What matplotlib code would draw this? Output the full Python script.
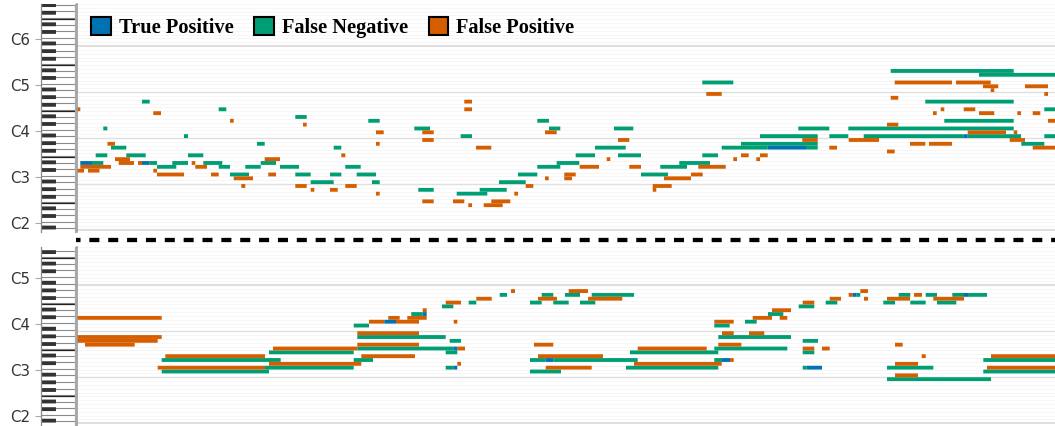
import matplotlib
matplotlib.use('Agg')
import matplotlib.pyplot as plt
from matplotlib.lines import Line2D
from matplotlib.patches import Patch
import numpy as np

BLUE = '#0072B2'
GREEN = '#009E73'
ORANGE = '#D55E00'

# notes are (pitch row, start, end), time is in reference pixels
top_tp = [(52, 80.3, 92), (52, 142, 149.7), (56, 767.7, 806), (59, 963.3, 967.7)]

top_fn = [
    (52, 92, 103.3), (52, 149.7, 157), (52, 172.3, 188), (52, 203.3, 222.3), (52, 260.7, 276),
    (54, 95.7, 107.3), (54, 126.3, 145.7), (54, 188, 203.3), (61, 103.3, 107.3),
    (56, 111, 126.3), (56, 333.7, 341.3), (68, 142, 149.7), (51, 157, 176.3),
    (51, 218.7, 230), (51, 245.3, 260.7), (51, 280, 299), (51, 345.3, 360.7),
    (59, 184, 188), (66, 218.7, 226.3), (49, 230, 249), (49, 295.3, 310.7), (49, 330, 341.3),
    (57, 257, 264.7), (64, 295.3, 306.7), (47, 310.7, 333.7),
    (49, 356.7, 376), (47, 372, 379.7), (63, 368.3, 379.7), (61, 414.3, 430),
    (45, 418.3, 433.7), (59, 460.7, 472), (44, 456.7, 487.3), (45, 479.7, 506.7),
    (47, 499, 525.7), (49, 518, 537.3), (51, 537.3, 560.3), (52, 556.7, 579.3),
    (54, 575.7, 595), (56, 595, 625.7), (61, 614, 633.3), (61, 549, 560.3), (63, 537.3, 549),
    (54, 618, 641), (49, 641, 668), (51, 660.3, 687), (52, 679.3, 710),
    (54, 702.3, 718), (73, 702.3, 733.3), (56, 721.7, 767.7), (56, 806, 817.7),
    (57, 741, 817.7), (59, 760, 817.7), (59, 829.3, 848.3), (59, 863.7, 963.3),
    (59, 967.7, 1021), (59, 1044.3, 1055), (61, 798.3, 829.3), (61, 848.3, 1013.7),
    (63, 944.3, 1013.7), (68, 925.3, 1013.7), (66, 1044.3, 1055), (76, 890.7, 1013.7),
    (75, 979, 1055), (57, 1021.3, 1044.3),
]

top_fp = [
    (66, 76.5, 80.3), (50, 77, 84), (50, 88, 99.5), (51, 80.3, 111), (57, 107.5, 115),
    (53, 115, 130), (52, 118.7, 134), (52, 138, 142), (50, 153.3, 157), (65, 153.3, 161),
    (49, 157, 184), (52, 191.7, 195.3), (51, 195.3, 207), (49, 211, 218.7), (63, 230, 233.7),
    (48, 233.7, 253), (46, 241.3, 245.3), (53, 264.7, 280), (49, 268.3, 276), (62, 303, 306.7),
    (46, 295.3, 306.7), (45, 310.7, 314.3), (45, 330, 337.7), (54, 341.3, 345.3),
    (46, 345.3, 356.7), (44, 376, 379.7), (60, 376, 383.7), (57, 376, 379.7),
    (60, 422.3, 433.7), (58, 422.3, 433.7), (42, 422.3, 433.7), (42, 453, 464.3),
    (42, 491.3, 510.3), (68, 464.3, 472), (66, 464.3, 472), (41, 468.3, 472), (41, 483.7, 502.7),
    (56, 476, 491.3), (44, 514.3, 518), (46, 525.7, 533.3), (48, 545, 548.7), (49, 564.3, 575.7),
    (48, 564.3, 572), (60, 545, 556.7), (51, 579.7, 599), (53, 606.7, 610.3), (58, 618, 629.3),
    (51, 629.3, 641), (46, 652.7, 671.7), (45, 652.7, 656.3), (48, 664, 691), (49, 691, 702.7),
    (51, 698.3, 725.7), (70, 706.3, 721.7), (53, 733.3, 737), (53, 756.3, 760), (54, 741, 748.7),
    (54, 760, 767.7), (58, 802.3, 817.7), (56, 829.3, 837), (58, 848.7, 879), (55, 887, 894.7),
    (62, 887, 898.3), (69, 890.7, 898.3), (73, 894.7, 952), (73, 956, 990.7), (72, 983, 998.3),
    (72, 1025, 1048), (71, 990.7, 994.3), (70, 1044.3, 1048), (66, 940.7, 944.3),
    (65, 933, 936.7), (65, 979, 994.3), (65, 1017.3, 1021), (65, 1032.7, 1040.3),
    (66, 963.7, 975.3), (63, 1048, 1055), (60, 967.7, 1006), (60, 1013.7, 1017.3),
    (58, 1009.7, 1025), (57, 910, 925.3), (57, 929, 952), (56, 1032.7, 1055),
]

bottom_tp = [
    (54, 453.3, 457.3), (49, 453.3, 457.3), (63, 422.7, 426.7), (61, 384.3, 396),
    (51, 545.7, 553.3), (51, 722, 730), (49, 806.7, 822), (68, 852.7, 856.7), (68, 964, 968),
]

bottom_fn = [
    (51, 161.7, 280.7), (48, 161.7, 269), (53, 269, 353.7), (49, 265, 353.7), (51, 353.7, 373),
    (54, 357.3, 453.3), (57, 357.3, 445.7), (56, 449.7, 461), (53, 445.7, 457.3),
    (49, 445.7, 453.3), (60, 353.7, 369), (63, 411.3, 422.7), (65, 442, 453.3),
    (66, 468.7, 476.3), (66, 530, 541.7), (66, 553.3, 568.7), (66, 580, 595.3),
    (68, 499.7, 507), (68, 541.7, 553.3), (68, 565, 580), (68, 591.7, 634),
    (51, 530, 545.7), (51, 553.3, 637.7), (48, 530, 561), (49, 626, 718.3), (53, 630, 718.3),
    (51, 714.3, 722), (54, 714.3, 787.3), (57, 718.3, 791), (60, 714.3, 729.7),
    (61, 745, 756.7), (63, 768, 783.3), (65, 798.7, 814.3), (66, 825.7, 837.3),
    (66, 883.3, 895), (66, 910.3, 925.7), (66, 937, 956.3), (68, 856.7, 860.3),
    (68, 898.7, 910.3), (68, 925.7, 937), (68, 952.3, 964), (68, 968, 987),
    (56, 802.7, 818), (53, 802.7, 814.3), (49, 802.7, 806.7), (49, 887, 933.3),
    (46, 887, 991), (51, 983.3, 1055), (48, 983.3, 1055),
]

bottom_fp = [
    (62, 77, 161.7), (57, 77, 161.7), (56, 77, 157.7), (55, 85, 134.7), (52, 165.3, 265),
    (49, 157.7, 265), (54, 273, 357.3), (50, 269, 361.3), (52, 361.3, 415), (55, 357.3, 419),
    (54, 457.3, 465), (58, 357.3, 419), (61, 369, 384.3), (61, 396, 419), (61, 453.7, 457.3),
    (62, 388.3, 399.7), (62, 407.3, 426.7), (64, 422.7, 426.7), (66, 445.7, 461),
    (67, 476.3, 491.7), (69, 511, 515), (50, 457.3, 461), (55, 534, 553.3), (52, 538, 603),
    (49, 545.7, 591.7), (67, 538, 557), (69, 568.7, 588), (67, 588, 622.3), (54, 637.7, 706.7),
    (50, 634, 721.7), (51, 730, 733.7), (55, 718.3, 741.3), (58, 722, 733.7), (58, 749, 764.3),
    (61, 714.3, 733.7), (62, 752.7, 772), (62, 779.7, 787.3), (64, 772, 791), (66, 802.7, 814.3),
    (67, 829.7, 841), (68, 848.7, 852.7), (69, 860.3, 868), (67, 864, 868), (67, 887, 910),
    (67, 933.3, 964), (68, 914, 922), (55, 895, 902.7), (54, 802.7, 814.3), (54, 822, 829.7),
    (52, 921.7, 925.7), (50, 895, 918), (47, 895, 918), (52, 991, 1055), (49, 987, 1055),
]

top_ticks = ['C2', 'C3', 'C4', 'C5', 'C6']
bottom_ticks = ['C2', 'C3', 'C4', 'C5']

W, H = 1055, 426
fig = plt.figure(figsize=(W / 100, H / 100), dpi=100)


def px_axes(x0, y0, x1, y1):
    return fig.add_axes([x0 / W, 1 - y1 / H, (x1 - x0) / W, (y1 - y0) / H])


def draw_notes(ax, notes, color):
    rows = [n[0] for n in notes]
    starts = np.array([n[1] for n in notes])
    ends = np.array([n[2] for n in notes])
    ax.barh(rows, ends - starts, left=starts, height=1.0, color=color, linewidth=0, zorder=3, snap=False)


def draw_panel(y0, y1, ylim, tp, fn, fp, labels, tick_shift, thick_grid):
    ax = px_axes(76, y0, W, y1)
    ax.set_xlim(76, W)
    ax.set_ylim(*ylim)
    for r in np.arange(34.5, 95, 1):
        ax.axhline(r, color='#f5f5f5', lw=0.6, zorder=1)
    for r in [34.5, 46.5, 58.5, 70.5, 82.5]:
        lw = 1.5 if r in (34.5, thick_grid) else 1.0
        ax.axhline(r, color='#dfdfdf', lw=lw, zorder=2)
    draw_notes(ax, fn, GREEN)
    draw_notes(ax, fp, ORANGE)
    draw_notes(ax, tp, BLUE)
    ax.axis('off')

    # keyboard
    kb = px_axes(41, y0, 75, y1)
    kb.set_xlim(0, 1)
    kb.set_ylim(*ylim)
    for oct_base in range(12, 96, 12):
        for k in range(7):
            kb.axhline(oct_base + 0.67 + k * 12 / 7, color='#8a8a8a', lw=0.8, zorder=1)
        kb.axhline(oct_base + 5.67, color='#222222', lw=0.9, zorder=1)
        kb.barh([oct_base + 2.17, oct_base + 4.17, oct_base + 7.17, oct_base + 9.17, oct_base + 11.17],
                0.44, left=0, height=1.0, color='#333333', linewidth=0, zorder=2, snap=False)
    for s in ['top', 'bottom']:
        kb.spines[s].set_visible(False)
    kb.spines['left'].set_color('#888888')
    kb.spines['left'].set_linewidth(0.9)
    kb.spines['right'].set_color('#aaaaaa')
    kb.spines['right'].set_linewidth(0.9)
    kb.set_xticks([])
    ticks = [36 + 12 * i + tick_shift for i in range(len(labels))]
    kb.set_yticks(ticks)
    kb.set_yticklabels(labels, fontsize=10.8, color='#333333')
    kb.tick_params(axis='y', length=4.3, width=0.8, color='#aaaaaa', pad=3.5)

    # rule between keyboard and roll
    fig.add_artist(Line2D([76.5 / W, 76.5 / W], [1 - y0 / H, 1 - y1 / H], color='#999999', lw=1.2))
    return ax


top_ax = draw_panel(4, 232, (34.0, 93.46), top_tp, top_fn, top_fp, top_ticks, 0.26, 82.5)
draw_panel(247, 426, (33.77, 80.5), bottom_tp, bottom_fn, bottom_fp, bottom_ticks, 0.45, 70.5)

# separator between the two rolls
fig.add_artist(Line2D([75.5 / W, 1], [1 - 240.3 / H] * 2, color='black', lw=3.1,
                      linestyle=(1.28, (2.33, 2.05)), dash_capstyle='butt'))

handles = [
    Patch(facecolor=BLUE, edgecolor='black', linewidth=1.5),
    Patch(facecolor=GREEN, edgecolor='black', linewidth=1.5),
    Patch(facecolor=ORANGE, edgecolor='black', linewidth=1.5),
]
fig.legend(handles, ['True Positive', 'False Negative', 'False Positive'],
           loc='upper left', bbox_to_anchor=(91 / W, 1 - 17 / H), borderaxespad=0, borderpad=0,
           ncol=3, frameon=False, handlelength=0.97, handleheight=0.95, handletextpad=0.38,
           columnspacing=1.02, prop={'family': 'Liberation Serif', 'weight': 'bold', 'size': 14.7})

fig.savefig('out.png', dpi=100)
plt.close()
